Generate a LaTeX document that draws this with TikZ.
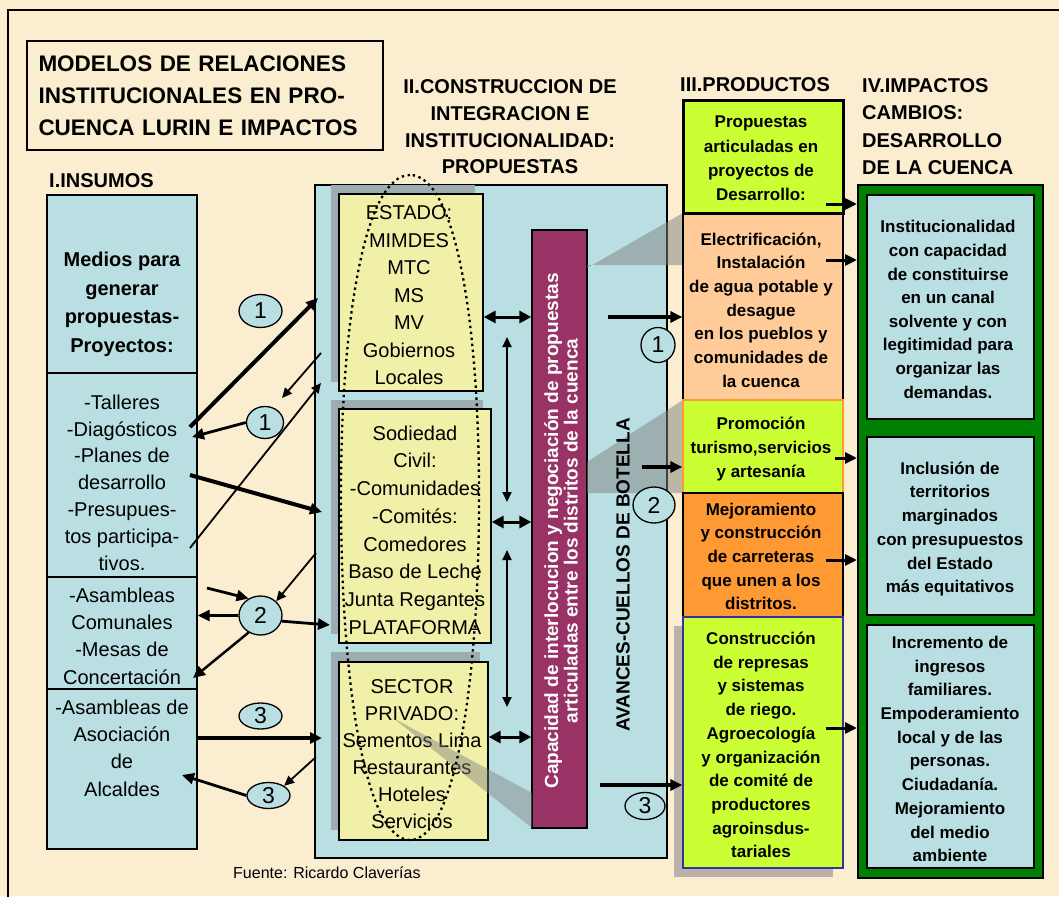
\documentclass[tikz,border=0pt]{standalone}
\usepackage{fontspec}
\setmainfont{Liberation Sans}
\usetikzlibrary{shapes.geometric,arrows.meta}

\definecolor{fondo}{RGB}{250,237,208}
\definecolor{celeste}{RGB}{186,223,227}
\definecolor{amarillo}{RGB}{240,240,168}
\definecolor{morado}{RGB}{153,51,102}
\definecolor{lima}{RGB}{204,255,51}
\definecolor{durazno}{RGB}{255,204,153}
\definecolor{naranja}{RGB}{255,153,51}
\definecolor{verde}{RGB}{0,128,0}
\definecolor{sombra}{RGB}{156,172,176}
\definecolor{sombrab}{RGB}{186,178,170}
\definecolor{azul}{RGB}{51,51,153}

\begin{document}
\begin{tikzpicture}[x=1pt,y=-1pt,
  caja/.style={draw, line width=1.3pt, inner sep=0pt},
  texto/.style={inner sep=0pt, align=center, font=\fontsize{20}{27.3}\selectfont},
  negrita/.style={inner sep=0pt, align=center, font=\bfseries\fontsize{17}{23.7}\selectfont},
  cabeza/.style={inner sep=0pt, align=left, anchor=west, font=\bfseries\fontsize{20}{27.5}\selectfont},
  num/.style={ellipse, draw, line width=1.3pt, fill=celeste, inner sep=0pt, font=\fontsize{23}{23}\selectfont},
  fl/.style={-{Triangle[length=12pt,width=11pt]}, line width=3pt},
  fln/.style={-{Triangle[length=10pt,width=9pt]}, line width=1.8pt},
  fld/.style={{Triangle[length=12pt,width=12pt]}-{Triangle[length=12pt,width=12pt]}, line width=3pt},
  fldn/.style={{Triangle[length=10pt,width=9pt]}-{Triangle[length=10pt,width=9pt]}, line width=2pt}]

\clip (0,0) rectangle (1059,896);
\fill[fondo] (0,0) rectangle (1059,896);
\draw[line width=2pt] (8,10) rectangle (1080,920);

% titulo y encabezados
\node[caja, line width=1.5pt, fill=fondo, minimum width=356pt, minimum height=109pt, text width=333pt, align=left,
      font=\bfseries\fontsize{22.5}{32}\selectfont] (titulo) at (205,95.5)
      {MODELOS DE RELACIONES\\INSTITUCIONALES EN PRO-\\CUENCA LURIN E IMPACTOS};
\node[cabeza] (insumos) at (49,180.5) {I.INSUMOS};
\node[cabeza, anchor=center, align=center, font=\bfseries\fontsize{20}{26.7}\selectfont] (constr) at (510,127)
      {II.CONSTRUCCION DE\\INTEGRACION E\\INSTITUCIONALIDAD:\\PROPUESTAS};
\node[cabeza] (productos) at (680,85) {III.PRODUCTOS};
\node[cabeza] (impactos) at (862,126.5) {IV.IMPACTOS\\CAMBIOS:\\DESARROLLO\\DE LA CUENCA};

% I. insumos
\node[caja, fill=celeste, minimum width=150pt, minimum height=178pt] (ins1) at (122,284) {};
\node[caja, fill=celeste, minimum width=150pt, minimum height=204pt] (ins2) at (122,475) {};
\node[caja, fill=celeste, minimum width=150pt, minimum height=112pt] (ins3) at (122,633) {};
\node[caja, fill=celeste, minimum width=150pt, minimum height=160pt] (ins4) at (122,769) {};
\node[texto, font=\bfseries\fontsize{20}{28.5}\selectfont] (ins1t) at (122,304.5) {Medios para\\generar\\propuestas-\\Proyectos:};
\node[texto, font=\fontsize{20}{26.8}\selectfont] (ins2t) at (122,482.5) {-Talleres\\-Diagósticos\\-Planes de\\desarrollo\\-Presupues-\\tos participa-\\tivos.};
\node[texto] (ins3t) at (122,636) {-Asambleas\\Comunales\\-Mesas de\\Concertación};
\node[texto] (ins4t) at (122,748) {-Asambleas de\\Asociación\\de\\Alcaldes};

% II. construccion
\node[caja, fill=celeste, minimum width=352pt, minimum height=673pt] (cont) at (491,521.5) {};
\fill[sombra] (331,185) rectangle (475,382);
\fill[sombra] (331,400) rectangle (483,634);
\fill[sombra] (331,652) rectangle (480,830);
\node[caja, fill=amarillo, minimum width=144pt, minimum height=197pt] (est) at (411,292.5) {};
\node[caja, fill=amarillo, minimum width=152pt, minimum height=234pt] (soc) at (415,526) {};
\node[caja, fill=amarillo, minimum width=149pt, minimum height=178pt] (priv) at (413.5,751) {};
\node[caja, fill=morado, minimum width=55pt, minimum height=598pt] (barra) at (559.5,529) {};
\fill[gray, opacity=0.5] (587,268) -- (683,213) -- (683,265) -- (587,265) -- cycle;
\fill[gray, opacity=0.5] (587,462) -- (683,400) -- (683,493) -- (587,493) -- cycle;

\node[texto, font=\fontsize{20}{27.5}\selectfont] (estt) at (409,295.5) {ESTADO:\\MIMDES\\MTC\\MS\\MV\\Gobiernos\\Locales};
\node[texto, font=\fontsize{20}{27.7}\selectfont] (soct) at (415,530) {Sodiedad\\Civil:\\-Comunidades\\-Comités:\\Comedores\\Baso de Leche\\Junta Regantes\\PLATAFORMA};
\node[texto, font=\fontsize{20}{27}\selectfont] (privt) at (412,754.5) {SECTOR\\PRIVADO:\\Sementos Lima\\Restaurantes\\Hoteles\\Servicios};
\fill[gray, opacity=0.45] (393,718) -- (532,793) -- (532,828) -- cycle;
\node[rotate=90, inner sep=0pt, align=center, text=white, font=\bfseries\fontsize{19}{19.5}\selectfont] (barrat) at (561,531)
      {Capacidad de interlocucion y negociación de propuestas\\articuladas entre los distritos de la cuenca};
\node[rotate=90, inner sep=0pt, font=\bfseries\fontsize{19}{19}\selectfont] (avances) at (623,575) {AVANCES-CUELLOS DE BOTELLA};

\draw[line width=2.3pt, dash pattern=on 2.4pt off 3.6pt] (410,175) .. controls (365,175) and (340,320) .. (341,507)
      .. controls (342,700) and (368,840) .. (410,840) .. controls (452,840) and (478,700) .. (479,507)
      .. controls (480,320) and (455,175) .. (410,175);

% III. productos
\fill[sombrab] (674,626) rectangle (833,877);
\node[caja, fill=durazno, minimum width=160pt, minimum height=187pt] (p2) at (763,306.5) {};
\node[caja, draw=naranja, fill=lima, minimum width=160pt, minimum height=93pt] (p3) at (763,446.5) {};
\node[caja, fill=naranja, minimum width=160pt, minimum height=124pt] (p4) at (763,555) {};
\node[caja, draw=azul, fill=lima, minimum width=160pt, minimum height=251pt] (p5) at (763,742.5) {};
\node[caja, line width=3pt, fill=lima, minimum width=160pt, minimum height=112pt] (p1) at (763,157) {};
\node[negrita, font=\bfseries\fontsize{17}{24.3}\selectfont] (p1t) at (761,158.5) {Propuestas\\articuladas en\\proyectos de\\Desarrollo:};
\node[negrita] (p2t) at (761,310) {Electrificación,\\Instalación\\de agua potable y\\desague\\en los pueblos y\\comunidades de\\la cuenca};
\node[negrita] (p3t) at (761,449) {Promoción\\turismo,servicios\\y artesanía};
\node[negrita] (p4t) at (761,556.5) {Mejoramiento\\y construcción\\de carreteras\\que unen a los\\distritos.};
\node[negrita] (p5t) at (761,745) {Construcción\\de represas\\y sistemas\\de riego.\\Agroecología\\y organización\\de comité de\\productores\\agroinsdus-\\tariales};

% IV. impactos
\node[caja, line width=2pt, fill=verde, minimum width=185pt, minimum height=693pt] (marco) at (950.5,531.5) {};
\node[caja, line width=2pt, fill=celeste, minimum width=167pt, minimum height=224pt] (i1) at (950.5,307) {};
\node[caja, line width=2pt, fill=celeste, minimum width=167pt, minimum height=178pt] (i2) at (950.5,526) {};
\node[caja, line width=2pt, fill=celeste, minimum width=167pt, minimum height=243pt] (i3) at (950.5,746.5) {};
\node[negrita, font=\bfseries\fontsize{17}{23.6}\selectfont] (i1t) at (948,309.5) {Institucionalidad\\con capacidad\\de constituirse\\en un canal\\solvente y con\\legitimidad para\\organizar las\\demandas.};
\node[negrita] (i2t) at (950,529) {Inclusión de\\territorios\\marginados\\con presupuestos\\del Estado\\más equitativos};
\node[negrita] (i3t) at (950,749) {Incremento de\\ingresos\\familiares.\\Empoderamiento\\local y de las\\personas.\\Ciudadanía.\\Mejoramiento\\del medio\\ambiente};

% numeros
\node[num, minimum width=43pt, minimum height=33pt] (c1a) at (260.5,311) {1};
\node[num, minimum width=37pt, minimum height=32pt] (c1b) at (265,422.5) {1};
\node[num, minimum width=43pt, minimum height=39pt] (c2) at (260.5,615.5) {2};
\node[num, minimum width=43pt, minimum height=26pt] (c3a) at (260.5,716) {3};
\node[num, minimum width=43pt, minimum height=26pt] (c3b) at (268.5,795.5) {3};
\node[num, minimum width=34pt, minimum height=35pt] (n1) at (658,345) {1};
\node[num, minimum width=42pt, minimum height=36pt] (n2) at (654,505) {2};
\node[num, minimum width=40pt, minimum height=27pt] (n3) at (645,806) {3};

% extremos libres
\coordinate (a1) at (190,427);  \coordinate (b1) at (318,298);
\coordinate (a2) at (321,353);  \coordinate (b2) at (282,398);
\coordinate (b3) at (192,437);
\coordinate (a4) at (190,548);  \coordinate (b4) at (321,383);
\coordinate (a5) at (190,475);  \coordinate (b5) at (322,512);
\coordinate (a6) at (316,553);
\coordinate (a7) at (207,588);
\coordinate (b9) at (193,678);
\coordinate (b10) at (330,625);
\coordinate (a11) at (197,738); \coordinate (b11) at (322,738);
\coordinate (a12) at (316,757);
\coordinate (b13) at (182,775);
\coordinate (v1a) at (507,337); \coordinate (v1b) at (507,502);
\coordinate (v2a) at (507,550); \coordinate (v2b) at (507,707);
\coordinate (s1) at (608,317);  \coordinate (s2) at (642,467);  \coordinate (s3) at (600,785);
\coordinate (r1) at (826,204);  \coordinate (r2) at (826,260);  \coordinate (r3) at (835,458);
\coordinate (r4) at (826,560);  \coordinate (r5) at (826,728);

% insumos <-> construccion
\draw[fl, line width=4pt] (a1) -- (b1);
\draw[fln] (a2) -- (b2);
\draw[fl, line width=2.8pt] (c1b.west) -- (b3);
\draw[fln] (a4) -- (b4);
\draw[fl, line width=4pt] (a5) -- (b5);
\draw[fln] (a6) -- (c2.north east);
\draw[fl, line width=2.8pt] (a7) -- (c2.125);
\draw[fl, line width=2.8pt] (c2.west) -- (ins3.east |- c2.west);
\draw[fl, line width=2.5pt] (c2.235) -- (b9);
\draw[fl, line width=2.8pt] (c2.-15) -- (b10);
\draw[fl, line width=3.5pt] (a11) -- (b11);
\draw[fln] (a12) -- (c3b.north east);
\draw[fl, line width=2.8pt] (c3b.west) -- (b13);

% dentro de la construccion
\draw[fld] (est.east |- 0,317) -- (barra.west |- 0,317);
\draw[fldn] (v1a) -- (v1b);
\draw[fld] (soc.east |- 0,522) -- (barra.west |- 0,522);
\draw[fldn] (v2a) -- (v2b);
\draw[fld] (priv.east |- 0,737) -- (barra.west |- 0,737);

% construccion -> productos -> impactos
\draw[fl, line width=3.5pt] (s1) -- (p2.west |- s1);
\draw[fl, line width=3.5pt] (s2) -- (p3.west |- s2);
\draw[fl, line width=3.5pt] (s3) -- (p5.west |- s3);
\draw[fl] (r1) -- (marco.west |- r1);
\draw[fl] (r2) -- (marco.west |- r2);
\draw[fl] (r3) -- (marco.west |- r3);
\draw[fl] (r4) -- (marco.west |- r4);
\draw[fl] (r5) -- (marco.west |- r5);

\node[inner sep=0pt, anchor=west, font=\fontsize{16}{16}\selectfont] (fuente) at (233,873) {Fuente: Ricardo Claverías};
\end{tikzpicture}
\end{document}
